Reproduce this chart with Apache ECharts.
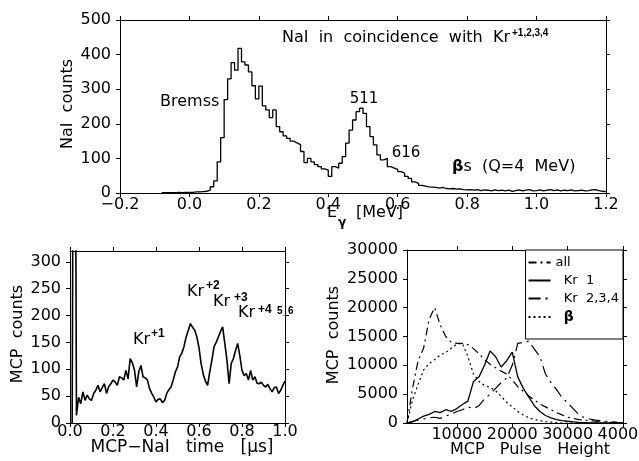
<!DOCTYPE html>
<html>
<head>
<meta charset="utf-8">
<script src="https://cdn.jsdelivr.net/npm/echarts@6/dist/echarts.min.js"></script>
<style>
  html, body { margin: 0; padding: 0; background: #fff; }
  #main { width: 639px; height: 461px; }
</style>
</head>
<body>
<div id="main"></div>
<script>
// top panel: NaI energy histogram, 0.01 MeV bins starting at -0.08 MeV
const naiBinStart = -0.08;
const naiBinWidth = 0.01;
const naiCounts = [
  1, 1, 1, 1, 2, 1, 2, 2,
  2, 3, 3, 4, 5, 8, 18, 35, 90, 160,
  270, 330, 377, 355, 418, 379, 370, 350, 310, 272,
  309, 252, 240, 218, 240, 192, 177, 165, 158, 150,
  145, 140, 120, 88, 100, 90, 82, 76, 70, 66,
  48, 76, 72, 86, 105, 144, 182, 211, 235, 245,
  230, 192, 163, 139, 110, 96, 100, 76, 72, 68,
  62, 57, 48, 42, 32, 28, 22, 20, 18, 17,
  16, 14, 16, 13, 12, 13, 11, 12, 10, 9,
  10, 8, 10, 7, 9, 8, 6, 9, 7, 8,
  6, 8, 5, 7, 9, 6, 8, 10, 6, 7,
  9, 6, 8, 10, 7, 9, 6, 8, 7, 9,
  6, 7, 8, 6, 7, 9, 10, 7, 5, 4
];
const energyTicks = [-0.2, 0.0, 0.2, 0.4, 0.6, 0.8, 1.0, 1.2];
const naiCountTicks = [0, 100, 200, 300, 400, 500];

// bottom left: MCP-NaI time spectrum, 0.01 us steps from 0.01 us
const timeStep = 0.01;
const mcpTimeCounts = [
  0, 1200, 14, 48, 36, 58, 42, 52, 45, 42,
  55, 61, 70, 58, 66, 73, 55, 68, 73, 80,
  76, 70, 86, 84, 80, 98, 82, 120, 112, 98,
  67, 96, 107, 86, 84, 80, 64, 55, 48, 39,
  44, 45, 38, 42, 55, 62, 67, 80, 95, 104,
  123, 130, 142, 160, 172, 185, 178, 173, 160, 140,
  110, 90, 78, 70, 95, 117, 142, 150, 160, 170,
  179, 148, 117, 73, 111, 120, 135, 148, 125, 98,
  88, 92, 80, 98, 80, 86, 74, 73, 76, 70,
  67, 72, 64, 58, 66, 67, 55, 61, 70, 78
];
const timeTicks = [0, 0.2, 0.4, 0.6, 0.8, 1.0];
const mcpCountTicks = [0, 50, 100, 150, 200, 250, 300];

// bottom right: MCP pulse height spectra
const pulseHeight = [
  1000, 2000, 3000, 4000, 5000, 6000, 7000, 8000, 9000, 10000,
  11000, 12000, 13000, 14000, 15000, 16000, 17000, 18000, 19000, 20000,
  21000, 22000, 23000, 24000, 25000, 26000, 27000, 28000, 29000, 30000,
  31000, 32000, 33000, 34000, 35000, 36000, 37000, 38000, 39000, 40000
];
const allCounts = [
  0, 6000, 10800, 13000, 18000, 20000, 17000, 15000, 14000, 13800,
  13800, 13600, 12900, 12000, 11000, 10200, 9600, 9000, 8500, 7500,
  6300, 5500, 4700, 4000, 3300, 2800, 2300, 1800, 1400, 1000,
  800, 600, 500, 400, 300, 200, 150, 100, 50, 0
];
const kr1Counts = [
  0, 200, 700, 1200, 1500, 2000, 1800, 2300, 2000, 2500,
  3200, 3800, 7200, 8000, 10000, 12500, 11500, 9700, 10800, 12300,
  8000, 6000, 4500, 3000, 2000, 1300, 900, 600, 400, 300,
  200, 100, 50, 0, 0, 0, 0, 0, 0, 0
];
const kr234Counts = [
  0, 300, 500, 700, 900, 1000, 800, 1200, 1500, 2000,
  2300, 2800, 2500, 3000, 4200, 5000, 6000, 7000, 7800, 10000,
  13800, 14000, 14200, 12800, 11500, 8500, 7000, 5800, 4400, 3500,
  2500, 1500, 900, 700, 500, 400, 300, 200, 100, 50
];
const betaCounts = [
  0, 4000, 6700, 9200, 10300, 11000, 11800, 12200, 13000, 13700,
  13800, 11500, 8500, 7200, 6500, 6200, 5600, 4600, 3600, 2800,
  2000, 1400, 900, 600, 400, 250, 150, 50, 0, 0,
  0, 0, 0, 0, 0, 0, 0, 0, 0, 0
];
const pulseTicks = [10000, 20000, 30000, 40000];
const pulseCountTicks = [0, 5000, 10000, 15000, 20000, 25000, 30000];

const FONT = "DejaVu Sans";
const txt = { fontFamily: FONT, fontSize: 16, color: "#000" };

const naiData = naiCounts.map((c, i) => [naiBinStart + i * naiBinWidth, c]);
naiData.push([naiBinStart + naiCounts.length * naiBinWidth, naiCounts[naiCounts.length - 1]]);
const timeData = mcpTimeCounts.map((c, i) => [(i + 1) * timeStep, c]);
const pairs = (ys) => pulseHeight.map((x, i) => [x, ys[i]]);

const minus = (v) => String(v).replace("-", "\u2212");

const axisBase = (gridIndex, position, min, max, showLabel, ticks) => {
  let a = {
    type: "value",
    gridIndex: gridIndex,
    position: position,
    min: min,
    max: max,
    splitLine: { show: false },
    axisLine: { show: true, onZero: false, lineStyle: { color: "#000", width: 1 } },
    axisTick: { show: true, inside: false, length: 4, lineStyle: { color: "#000" }, customValues: ticks },
    axisLabel: {
      show: showLabel, customValues: ticks, interval: 0, hideOverlap: false,
      formatter: (v) => String(v), ...txt,
    },
  };
  return a;
};

let xAxes = [
  axisBase(0, "bottom", -0.2, 1.2, true, energyTicks),
  axisBase(0, "top", -0.2, 1.2, false, energyTicks),
  axisBase(1, "bottom", 0, 1, true, timeTicks),
  axisBase(1, "top", 0, 1, false, timeTicks),
  axisBase(2, "bottom", 1000, 40000, true, pulseTicks),
  axisBase(2, "top", 1000, 40000, false, pulseTicks),
];
xAxes[0].axisLabel.formatter = (v) => minus(v.toFixed(1));
xAxes[0].axisLabel.margin = 4;
xAxes[2].axisLabel.formatter = (v) => v.toFixed(1);
xAxes[2].axisLabel.margin = 1;
xAxes[4].axisLabel.margin = 4;

let yAxes = [
  axisBase(0, "left", 0, 500, true, naiCountTicks),
  axisBase(0, "right", 0, 500, false, naiCountTicks),
  axisBase(1, "left", 0, 320, true, mcpCountTicks),
  axisBase(1, "right", 0, 320, false, mcpCountTicks),
  axisBase(2, "left", 0, 30000, true, pulseCountTicks),
  axisBase(2, "right", 0, 30000, false, pulseCountTicks),
];
yAxes[0].axisLabel.margin = 9;
yAxes[2].axisLabel.margin = 9;
yAxes[4].axisLabel.margin = 9;

const label = (text, x, y, size, opts) => ({
  type: "text",
  x: x,
  y: y,
  rotation: (opts && opts.rot) || 0,
  silent: true,
  style: {
    text: text,
    fill: "#000",
    font: ((opts && opts.bold) ? "bold " : "") + size + "px " + ((opts && opts.family) || FONT),
    align: (opts && opts.align) || "left",
    verticalAlign: "middle",
    rich: {
      b: { fontWeight: "bold", fontSize: size, fontFamily: FONT, fill: "#000" },
    },
  },
});

const legendText = { "all": "all", "Kr 1": "  Kr  1", "Kr 2,3,4": "  Kr  2,3,4", "β": "  {b|β}" };

let option = {
  backgroundColor: "#fff",
  animation: false,
  grid: [
    { left: 120, top: 20, width: 486, height: 173, outerBoundsMode: "none", containLabel: false },
    { left: 70, top: 251, width: 215, height: 172, outerBoundsMode: "none", containLabel: false },
    { left: 407, top: 250, width: 216, height: 173, outerBoundsMode: "none", containLabel: false },
  ],
  xAxis: xAxes,
  yAxis: yAxes,
  legend: {
    orient: "vertical",
    right: 16,
    top: 250,
    padding: [6, 4, 15, 2],
    itemGap: 5,
    itemWidth: 22,
    itemHeight: 14,
    borderColor: "#000",
    borderWidth: 1,
    backgroundColor: "#fff",
    data: ["all", "Kr 1", "Kr 2,3,4", "β"],
    formatter: (name) => legendText[name],
    itemStyle: { opacity: 0 },
    lineStyle: { opacity: 1 },
    textStyle: {
      fontFamily: FONT,
      fontSize: 13,
      color: "#000",
      rich: { b: { fontWeight: "bold", fontSize: 14, fontFamily: FONT, color: "#000" } },
    },
  },
  series: [
    {
      type: "line", xAxisIndex: 0, yAxisIndex: 0, step: "end", symbol: "none",
      data: naiData, lineStyle: { color: "#000", width: 1.3 },
    },
    {
      type: "line", xAxisIndex: 2, yAxisIndex: 2, symbol: "none",
      data: timeData, lineStyle: { color: "#000", width: 1.6 },
    },
    {
      name: "all", type: "line", xAxisIndex: 4, yAxisIndex: 4, symbol: "none",
      data: pairs(allCounts), itemStyle: { color: "#000" },
      lineStyle: { color: "#000", width: 1.2, type: [8, 4, 2, 4] },
    },
    {
      name: "Kr 1", type: "line", xAxisIndex: 4, yAxisIndex: 4, symbol: "none",
      data: pairs(kr1Counts), itemStyle: { color: "#000" },
      lineStyle: { color: "#000", width: 1.3, type: "solid" },
    },
    {
      name: "Kr 2,3,4", type: "line", xAxisIndex: 4, yAxisIndex: 4, symbol: "none",
      data: pairs(kr234Counts), itemStyle: { color: "#000" },
      lineStyle: { color: "#000", width: 1.2, type: [12, 5, 2, 5] },
    },
    {
      name: "β", type: "line", xAxisIndex: 4, yAxisIndex: 4, symbol: "none",
      data: pairs(betaCounts), itemStyle: { color: "#000" },
      lineStyle: { color: "#000", width: 1.2, type: [2, 3] },
    },
  ],
  graphic: [
    label("NaI  counts", 68, 104, 16, { rot: Math.PI / 2, align: "center" }),
    label("E", 327, 213, 16),
    label("γ", 338, 223, 12, { bold: true }),
    label("[MeV]", 356, 213, 16),
    label("NaI  in  coincidence  with  Kr", 282, 38, 16),
    label("+1,2,3,4", 512, 33, 10, { bold: true, family: "Liberation Sans" }),
    label("Bremss", 160, 102, 16),
    label("511", 364, 99, 15, { align: "center" }),
    label("616", 406, 153, 15, { align: "center" }),
    label("{b|β}s  (Q=4  MeV)", 452, 167, 16),

    label("MCP  counts", 18, 334, 16, { rot: Math.PI / 2, align: "center" }),
    label("MCP\u2212NaI   time   [μs]", 182, 448, 17, { align: "center" }),
    label("Kr", 133, 340, 16),
    label("+1", 151, 334, 12, { bold: true, family: "Liberation Sans" }),
    label("Kr", 187, 292, 16),
    label("+2", 206, 286, 12, { bold: true, family: "Liberation Sans" }),
    label("Kr", 213, 302, 16),
    label("+3", 234, 298, 12, { bold: true, family: "Liberation Sans" }),
    label("Kr", 238, 313, 16),
    label("+4", 258, 310, 12, { bold: true, family: "Liberation Sans" }),
    label("5_6", 277, 311, 10, { bold: true, family: "Liberation Sans" }),

    label("MCP  counts", 334, 335, 16, { rot: Math.PI / 2, align: "center" }),
    label("MCP   Pulse   Height", 530, 450, 16, { align: "center" }),
  ],
};

let chart = echarts.init(document.getElementById("main"));
chart.setOption(option, true);
</script>
</body>
</html>
